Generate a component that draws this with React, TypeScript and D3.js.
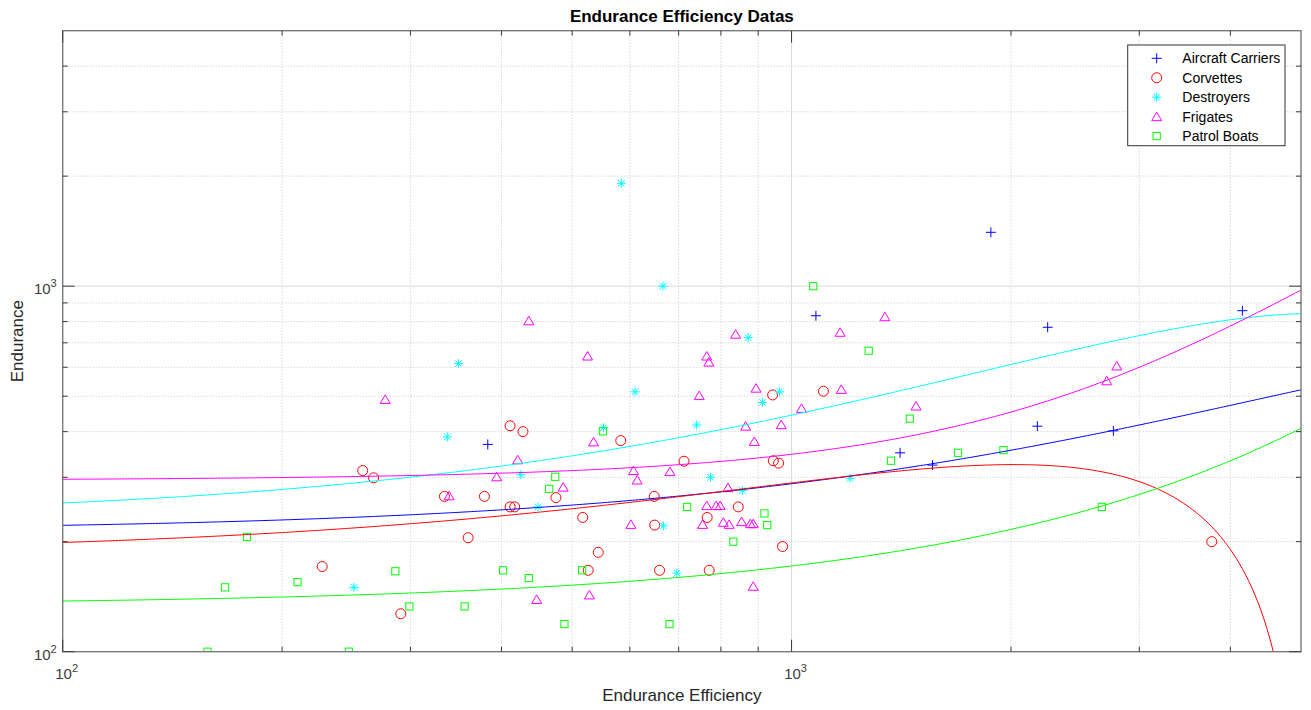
import React from "react";
import * as d3 from "d3";

// ---- data ----
const carriersX = [383, 1080, 1877, 2246, 4155, 2174, 2764, 1409, 1561];
const carriersY = [369, 830, 1404, 772, 857, 414, 402, 350, 324];

const corvettesX = [258, 267, 334, 379, 360, 227, 291, 411, 428, 583, 712, 411, 417, 475, 517, 648, 766, 845, 942, 944, 960, 1106, 649, 543, 526, 659, 771, 972, 3772];
const corvettesY = [313, 299, 266, 266, 205, 171, 127, 415, 400, 378, 332, 249, 249, 264, 233, 266, 233, 249, 504, 333, 328, 516, 222, 187, 167, 167, 167, 194, 200];

const destroyersX = [251, 337, 349, 425, 449, 552, 584, 610, 666, 667, 696, 741, 774, 856, 872, 912, 963, 1203];
const destroyersY = [150, 387, 614, 305, 249, 410, 1912, 514, 1000, 221, 164, 417, 300, 276, 723, 481, 514, 298];

const frigatesX = [277, 339, 394, 421, 436, 447, 486, 525, 528, 535, 602, 607, 614, 681, 747, 755, 765, 765, 770, 788, 798, 806, 818, 821, 838, 854, 865, 878, 886, 886, 889, 894, 968, 1032, 1166, 1170, 1343, 1482, 2707, 2794];
const frigatesY = [490, 267, 301, 335, 804, 139, 282, 644, 143, 375, 223, 313, 295, 311, 502, 223, 251, 644, 620, 251, 251, 226, 281, 223, 739, 227, 414, 224, 224, 151, 376, 526, 418, 463, 748, 522, 825, 470, 551, 605];

const patrolX = [158, 167, 179, 210, 247, 286, 299, 356, 402, 436, 465, 474, 488, 516, 551, 680, 719, 832, 918, 926, 1071, 1276, 1453, 1369, 1692, 1953, 2665];
const patrolY = [100, 150, 206, 155, 100, 166, 133, 133, 167, 159, 279, 301, 119, 167, 401, 119, 249, 200, 239, 222, 1000, 666, 434, 333, 350, 356, 249];

// polynomial trend coefficients (c0 + c1 x + c2 x^2 + c3 x^3)
const carriersFit = [214.0, 0.0773, -3.2e-6, 0];
const corvettesFit = [185.53, 0.13823, -3.425e-5, 0];
const destroyersFit = [232.0, 0.2343, -2.25e-5, 0];
const frigatesFit = [293.66, 0.023195, 3.18e-5, -1.83e-9];
const patrolFit = [134.12, 0.034524, 2.669e-6, 2.81e-10];

const seriesNames = ["Aircraft Carriers", "Corvettes", "Destroyers", "Frigates", "Patrol Boats"];
const seriesColors = ["#0000ff", "#ff0000", "#00ffff", "#ff00ff", "#00ff00"];
const seriesMarkers = ["plus", "circle", "star", "triangle", "square"];

const xDomain = [100, 5000];
const yDomain = [100, 5000];
const majorTicks = [100, 1000];
const majorLabels = ["2", "3"];
const minorTicks = [200, 300, 400, 500, 600, 700, 800, 900, 2000, 3000, 4000];

const titleText = "Endurance Efficiency Datas";
const xLabelText = "Endurance Efficiency";
const yLabelText = "Endurance";

const W = 1311;
const H = 710;
const L = 62.7, R = 1301, T = 30.7, B = 651.7;

function Marker({ kind, x, y, color }: { kind: string; x: number; y: number; color: string }) {
  const common = { fill: "none", stroke: color, strokeWidth: 1 };
  if (kind === "plus") {
    return <path d={`M${x - 5},${y}H${x + 5}M${x},${y - 5}V${y + 5}`} {...common} />;
  }
  if (kind === "circle") {
    return <circle cx={x} cy={y} r={5} {...common} />;
  }
  if (kind === "star") {
    const a = 4.5, b = 3.3;
    return (
      <path
        d={`M${x - a},${y}H${x + a}M${x},${y - a}V${y + a}M${x - b},${y - b}L${x + b},${y + b}M${x - b},${y + b}L${x + b},${y - b}`}
        {...common}
      />
    );
  }
  if (kind === "triangle") {
    return <path d={`M${x},${y - 4.5}L${x + 5},${y + 4}L${x - 5},${y + 4}Z`} {...common} />;
  }
  return <rect x={x - 3.6} y={y - 3.6} width={7.2} height={7.2} {...common} />;
}

export default function App() {
  const xs = d3.scaleLog().domain(xDomain).range([L, R]);
  const ys = d3.scaleLog().domain(yDomain).range([B, T]);

  const seriesX = [carriersX, corvettesX, destroyersX, frigatesX, patrolX];
  const seriesY = [carriersY, corvettesY, destroyersY, frigatesY, patrolY];
  const fits = [carriersFit, corvettesFit, destroyersFit, frigatesFit, patrolFit];

  const sampleX = d3.range(0, 401).map((i) => Math.pow(10, 2 + (Math.log10(5000) - 2) * (i / 400)));
  const poly = (c: number[], x: number) => c[0] + c[1] * x + c[2] * x * x + c[3] * x * x * x;
  const line = d3
    .line<[number, number]>()
    .defined((d) => d[1] > 1)
    .x((d) => xs(d[0]))
    .y((d) => ys(d[1]));

  const gridColor = "#c6c6c6";
  const axisColor = "#7a7a7a";
  const tickColor = "#3a3a3a";
  const labelColor = "#3c3c3c";
  const font = "'Liberation Sans', Arial, Helvetica, sans-serif";

  return (
    <svg width={W} height={H} style={{ position: "absolute", left: 0, top: 0, background: "#fff" }} fontFamily={font}>
      <defs>
        <clipPath id="plotArea">
          <rect x={L} y={T} width={R - L} height={B - T} />
        </clipPath>
      </defs>
      <rect x={0} y={0} width={W} height={H} fill="#fff" />

      {/* grid */}
      <g>
        {minorTicks.map((t) => (
          <line key={"gx" + t} x1={xs(t)} x2={xs(t)} y1={T} y2={B} stroke={gridColor} strokeDasharray="1,2" />
        ))}
        {minorTicks.map((t) => (
          <line key={"gy" + t} x1={L} x2={R} y1={ys(t)} y2={ys(t)} stroke={gridColor} strokeDasharray="1,2" />
        ))}
        <line x1={xs(1000)} x2={xs(1000)} y1={T} y2={B} stroke="#dadada" />
        <line x1={L} x2={R} y1={ys(1000)} y2={ys(1000)} stroke="#dadada" />
      </g>

      {/* scatter markers */}
      <g clipPath="url(#plotArea)">
        {seriesX.map((sx, si) =>
          sx.map((xv, i) => (
            <Marker key={si + "-" + i} kind={seriesMarkers[si]} x={xs(xv)} y={ys(seriesY[si][i])} color={seriesColors[si]} />
          ))
        )}
      </g>

      {/* trend curves */}
      <g clipPath="url(#plotArea)">
        {fits.map((c, si) => (
          <path
            key={"fit" + si}
            d={line(sampleX.map((x) => [x, poly(c, x)] as [number, number])) || ""}
            fill="none"
            stroke={seriesColors[si]}
            strokeWidth={1}
          />
        ))}
      </g>

      {/* axes box and ticks */}
      <rect x={L} y={T} width={R - L} height={B - T} fill="none" stroke={axisColor} strokeWidth={1.4} />
      <g stroke={tickColor} strokeWidth={1}>
        {majorTicks.map((t) => (
          <g key={"mt" + t}>
            <line x1={xs(t)} x2={xs(t)} y1={B} y2={B - 12} />
            <line x1={xs(t)} x2={xs(t)} y1={T} y2={T + 12} />
            <line x1={L} x2={L + 12} y1={ys(t)} y2={ys(t)} />
            <line x1={R} x2={R - 12} y1={ys(t)} y2={ys(t)} />
          </g>
        ))}
        {minorTicks.map((t) => (
          <g key={"nt" + t}>
            <line x1={xs(t)} x2={xs(t)} y1={B} y2={B - 5} />
            <line x1={xs(t)} x2={xs(t)} y1={T} y2={T + 5} />
            <line x1={L} x2={L + 5} y1={ys(t)} y2={ys(t)} />
            <line x1={R} x2={R - 5} y1={ys(t)} y2={ys(t)} />
          </g>
        ))}
      </g>

      {/* tick labels */}
      <g fill={labelColor} fontSize={15}>
        {majorTicks.map((t, i) => (
          <text key={"xl" + t} x={xs(t) + 4} y={B + 27} textAnchor="middle">
            10
            <tspan fontSize={11} dy={-7}>{majorLabels[i]}</tspan>
          </text>
        ))}
        {majorTicks.map((t, i) => (
          <text key={"yl" + t} x={L - 6} y={ys(t) + 8} textAnchor="end">
            10
            <tspan fontSize={11} dy={-7}>{majorLabels[i]}</tspan>
          </text>
        ))}
      </g>

      {/* titles */}
      <text x={(L + R) / 2} y={22} textAnchor="middle" fontWeight="bold" fontSize={17} fill="#000">
        {titleText}
      </text>
      <text x={(L + R) / 2} y={701} textAnchor="middle" fontSize={17} fill="#262626">
        {xLabelText}
      </text>
      <text transform={`translate(23,${(T + B) / 2}) rotate(-90)`} textAnchor="middle" fontSize={17} fill="#262626">
        {yLabelText}
      </text>

      {/* legend */}
      <g>
        <rect x={1127.7} y={45} width={157.3} height={100.7} fill="#fff" stroke="#333" strokeWidth={1} />
        {seriesNames.map((n, i) => (
          <g key={"lg" + i}>
            <Marker kind={seriesMarkers[i]} x={1156.7} y={58.3 + i * 19.45} color={seriesColors[i]} />
            <text x={1182.3} y={58.3 + i * 19.45 + 5} fontSize={14} fill="#000">
              {n}
            </text>
          </g>
        ))}
      </g>
    </svg>
  );
}
